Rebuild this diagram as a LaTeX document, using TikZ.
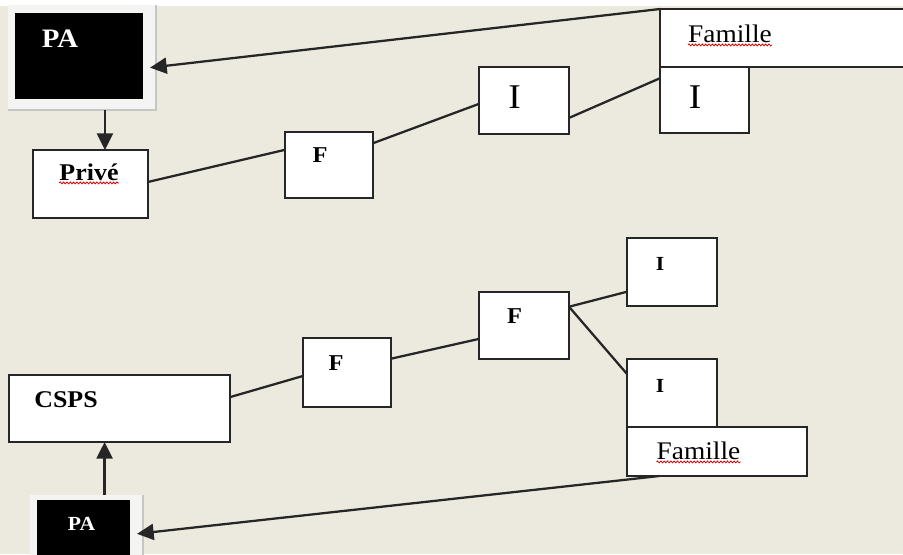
\documentclass[tikz,border=0pt]{standalone}
\usepackage{fontspec}
\setmainfont{Liberation Serif}[FakeStretch=1.08]
\usetikzlibrary{arrows.meta,calc,decorations.pathmorphing}
\definecolor{bg}{HTML}{ECE9DF}
\definecolor{ln}{HTML}{262626}
\definecolor{frm}{HTML}{F4F4F2}
\newcommand{\boxat}[6]{\node[#2, minimum width={(#5-#3)*0.75pt}, minimum height={(#6-#4)*0.75pt}] (#1) at ({(#3+#5)/2},{(#4+#6)/2}) {};}
\begin{document}
\begin{tikzpicture}[x=0.75pt,y=-0.75pt,
 box/.style={draw=ln, line width=2.2pt, fill=white, inner sep=0pt, outer sep=0pt},
 blk/.style={draw=none, fill=black, inner sep=0pt, outer sep=0pt},
 frame/.style={draw=none, fill=frm, inner sep=0pt, outer sep=0pt},
 conn/.style={draw=ln, line width=1.7pt},
 arr/.style={conn, -{Triangle[length=12.5pt,width=12pt]}},
 lbl/.style={anchor=base, inner sep=0pt, text=black},
 wavy/.style={draw=red!85!black, line width=0.6pt, decorate, decoration={snake, amplitude=0.7pt, segment length=2.5pt}}
]
\useasboundingbox (0,0) rectangle (903,554);
\clip (0,0) rectangle (903,554);
\fill[white] (0,0) rectangle (903,6);
\fill[bg] (0,6) rectangle (903,554);

% PA top
\boxat{pa1frame}{frame}{8}{5}{156}{110}
\draw[gray!45, line width=1.5pt] (pa1frame.north east) -- (pa1frame.south east) -- (pa1frame.south west);
\boxat{pa1}{blk}{15}{13}{143}{99}
% PA bottom
\boxat{pa2frame}{frame}{30}{495}{143}{565}
\draw[gray!45, line width=1.5pt] (pa2frame.north east) -- (pa2frame.south east);
\boxat{pa2}{blk}{37}{500}{130}{565}

% boxes
\boxat{prive}{box}{33}{150}{148}{218}
\boxat{f1}{box}{285}{132}{373}{198}
\boxat{imid}{box}{479}{67}{569}{134}
\boxat{iright}{box}{660}{67}{749}{133}
\boxat{fam1}{box}{660}{9}{915}{67}
\boxat{i3}{box}{627}{238}{717}{306}
\boxat{f3}{box}{479}{292}{569}{359}
\boxat{f2}{box}{303}{338}{391}{407}
\boxat{csps}{box}{9}{375}{230}{442}
\boxat{i4}{box}{627}{359}{717}{427}
\boxat{fam2}{box}{627}{427}{807}{476}

% texts
\node[lbl, text=white, font=\bfseries\fontsize{20}{24}\selectfont] (tpa1) at (60,47) {PA};
\node[lbl, font=\fontsize{19}{23}\selectfont] (tfam1) at (730,42) {Famille};
\node[lbl, font=\fontsize{26}{30}\selectfont] (tiright) at (695,108) {I};
\node[lbl, font=\fontsize{26}{30}\selectfont] (timid) at (514.5,108) {I};
\node[lbl, font=\bfseries\fontsize{17}{20}\selectfont] (tf1) at (320,162) {F};
\node[lbl, font=\bfseries\fontsize{18}{21}\selectfont] (tprive) at (89,180) {Privé};
\node[lbl, font=\bfseries\fontsize{18}{21}\selectfont] (tcsps) at (66,407) {CSPS};
\node[lbl, font=\bfseries\fontsize{17}{20}\selectfont] (tf2) at (336,370) {F};
\node[lbl, font=\bfseries\fontsize{17}{20}\selectfont] (tf3) at (514.5,323) {F};
\node[lbl, font=\bfseries\fontsize{15}{18}\selectfont] (ti3) at (660,270) {I};
\node[lbl, font=\bfseries\fontsize{15}{18}\selectfont] (ti4) at (660,392) {I};
\node[lbl, font=\fontsize{19}{23}\selectfont] (tfam2) at (698.5,459) {Famille};
\node[lbl, text=white, font=\bfseries\fontsize{15}{18}\selectfont] (tpa2) at (81.5,530) {PA};

% spell-check underlines
\draw[wavy] ([yshift=-2.2pt]tfam1.base west) -- ([yshift=-2.2pt]tfam1.base east);
\draw[wavy] ([yshift=-2.2pt]tprive.base west) -- ([yshift=-2.2pt]tprive.base east);
\draw[wavy] ([yshift=-2.2pt]tfam2.base west) -- ([yshift=-2.2pt]tfam2.base east);

% connectors
\coordinate (a1) at ($(pa1frame.south west)!0.655!(pa1frame.south east)$);
\draw[arr] (a1) -- (a1 |- prive.north);
\draw[arr, shorten >=-4.5pt] (fam1.north west) -- ($(pa1frame.north east)!0.59!(pa1frame.south east)$);
\draw[conn] ($(prive.north east)!0.47!(prive.south east)$) -- ($(f1.north west)!0.27!(f1.south west)$);
\draw[conn] ($(f1.north east)!0.17!(f1.south east)$) -- ($(imid.north west)!0.55!(imid.south west)$);
\draw[conn] ($(imid.north east)!0.76!(imid.south east)$) -- ($(iright.north west)!0.17!(iright.south west)$);
\draw[conn] ($(csps.north east)!0.33!(csps.south east)$) -- ($(f2.north west)!0.55!(f2.south west)$);
\draw[conn] ($(f2.north east)!0.30!(f2.south east)$) -- ($(f3.north west)!0.70!(f3.south west)$);
\draw[conn] ($(f3.north east)!0.22!(f3.south east)$) -- ($(i3.north west)!0.79!(i3.south west)$);
\draw[conn] ($(f3.north east)!0.22!(f3.south east)$) -- ($(i4.north west)!0.22!(i4.south west)$);
\coordinate (a2) at ($(pa2frame.north west)!0.66!(pa2frame.north east)$);
\draw[arr] (a2) -- (a2 |- csps.south);
\draw[arr, shorten >=-4.5pt] ($(fam2.south west)!0.18!(fam2.south east)$) -- ($(pa2frame.north east)!0.545!(pa2frame.south east)$);
\end{tikzpicture}
\end{document}
